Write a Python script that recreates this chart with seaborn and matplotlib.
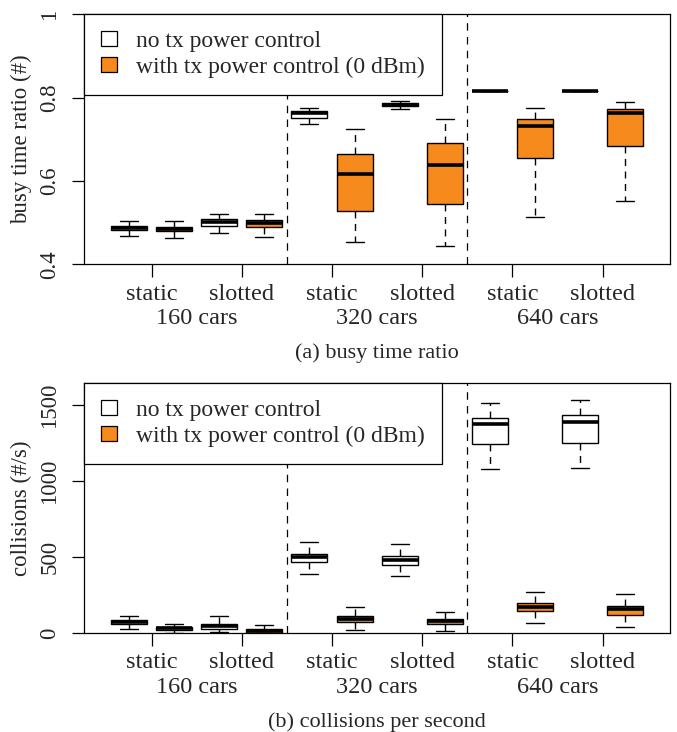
import matplotlib
matplotlib.use("Agg")
import matplotlib.pyplot as plt
import pandas as pd
import seaborn as sns
from matplotlib.patches import Patch

sns.set_theme(style="white")
plt.rcParams['font.family'] = ['Liberation Serif', 'DejaVu Serif']

# twelve boxes: (160 static, 160 slotted, 320 static, ...) x (no tx pc, with tx pc)
slots = list(range(12))
hues = ["no", "with"] * 6

# five-number summaries: low whisker, q1, median, q3, high whisker
busy_lo = [0.469, 0.463, 0.474, 0.466, 0.736, 0.454, 0.772, 0.445, 0.815, 0.514, 0.816, 0.553]
busy_q1 = [0.482, 0.479, 0.493, 0.489, 0.751, 0.529, 0.779, 0.544, 0.815, 0.654, 0.816, 0.684]
busy_med = [0.487, 0.484, 0.501, 0.498, 0.762, 0.616, 0.783, 0.638, 0.815, 0.732, 0.816, 0.763]
busy_q3 = [0.492, 0.490, 0.508, 0.506, 0.767, 0.665, 0.787, 0.692, 0.815, 0.748, 0.816, 0.772]
busy_hi = [0.505, 0.505, 0.521, 0.521, 0.775, 0.725, 0.793, 0.749, 0.815, 0.774, 0.816, 0.790]

coll_lo = [26, 0, 7, 0, 391, 18, 373, 13, 1078, 68, 1087, 37]
coll_q1 = [57, 20, 24, 2, 470, 70, 450, 57, 1245, 143, 1254, 119]
coll_med = [70, 31, 44, 15, 498, 92, 479, 77, 1377, 171, 1390, 156]
coll_q3 = [83, 42, 61, 29, 523, 112, 505, 94, 1416, 195, 1438, 180]
coll_hi = [114, 59, 112, 53, 600, 169, 586, 141, 1517, 270, 1535, 259]

tick_pos = [0.5, 2.5, 4.5, 6.5, 8.5, 10.5]
tick_labels = ["static", "slotted"] * 3
group_pos = [1.5, 5.5, 9.5]
group_labels = ["160 cars", "320 cars", "640 cars"]
sep_pos = [3.5, 7.5]
legend_labels = ["no tx power control", "with tx power control (0 dBm)"]
palette = {"no": "white", "with": "#f68a1c"}


def long_frame(lo, q1, med, q3, hi):
    rows = []
    for s, h, a, b, c, d, e in zip(slots, hues, lo, q1, med, q3, hi):
        for v in (a, b, c, d, e):
            rows.append({"slot": s, "hue": h, "value": v})
    return pd.DataFrame(rows)


def draw(ax, df, ylim, yticks, yticklabels, ylabel, caption):
    sns.boxplot(data=df, x="slot", y="value", hue="hue", order=slots,
                hue_order=["no", "with"], palette=palette, dodge=False,
                saturation=1, width=0.8, whis=(0, 100), linecolor="black",
                linewidth=1.0, fliersize=0, legend=False, ax=ax,
                whiskerprops=dict(linestyle=(0, (5, 4))),
                medianprops=dict(color="black", linewidth=2.6))
    ax.set_xlim(-1, 12)
    ax.set_ylim(*ylim)
    for x in sep_pos:
        ax.axvline(x, color="black", linestyle=(0, (6, 5)), linewidth=0.9, zorder=1)
    ax.set_xticks(tick_pos)
    ax.set_xticklabels(tick_labels, fontsize=17.5)
    ax.set_yticks(yticks)
    ax.set_yticklabels(yticklabels, fontsize=16.5, rotation=90, va="center")
    ax.tick_params(axis="both", direction="out", length=9, width=0.9,
                   bottom=True, left=True, color="black")
    ax.tick_params(axis="x", pad=5)
    ax.tick_params(axis="y", pad=8)
    ax.set_xlabel("")
    ax.set_ylabel(ylabel, fontsize=16.5)
    ax.yaxis.label.set_va("center")
    ax.yaxis.set_label_coords(-0.106, 0.5)
    for s in ax.spines.values():
        s.set_color("black")
        s.set_linewidth(0.9)
    for x, t in zip(group_pos, group_labels):
        ax.text(x, -0.218, t, transform=ax.get_xaxis_transform(),
                ha="center", va="center", fontsize=17.5)
    ax.text(0.5, -0.356, caption, transform=ax.transAxes,
            ha="center", va="center", fontsize=16)
    handles = [Patch(facecolor=palette[h], edgecolor="black", linewidth=0.9)
               for h in ["no", "with"]]
    leg = ax.legend(handles, legend_labels, loc="upper left",
                    bbox_to_anchor=(0, 1), fontsize=17, frameon=True,
                    fancybox=False, framealpha=1, edgecolor="black",
                    borderaxespad=0, borderpad=0.72, handlelength=0.68,
                    handleheight=0.6, handletextpad=0.8, labelspacing=0.2)
    leg.get_frame().set_linewidth(0.9)
    leg.set_zorder(10)


fig = plt.figure(figsize=(6.77, 7.32), dpi=100)
ax1 = fig.add_axes([0.124, 0.639, 0.866, 0.3415])
ax2 = fig.add_axes([0.124, 0.1352, 0.866, 0.3415])

draw(ax1, long_frame(busy_lo, busy_q1, busy_med, busy_q3, busy_hi),
     (0.4, 1.0), [0.4, 0.6, 0.8, 1.0], ["0.4", "0.6", "0.8", "1"],
     "busy time ratio (#)", "(a) busy time ratio")
draw(ax2, long_frame(coll_lo, coll_q1, coll_med, coll_q3, coll_hi),
     (0, 1647), [0, 500, 1000, 1500], ["0", "500", "1000", "1500"],
     "collisions (#/s)", "(b) collisions per second")

fig.savefig("out.png", dpi=100)
